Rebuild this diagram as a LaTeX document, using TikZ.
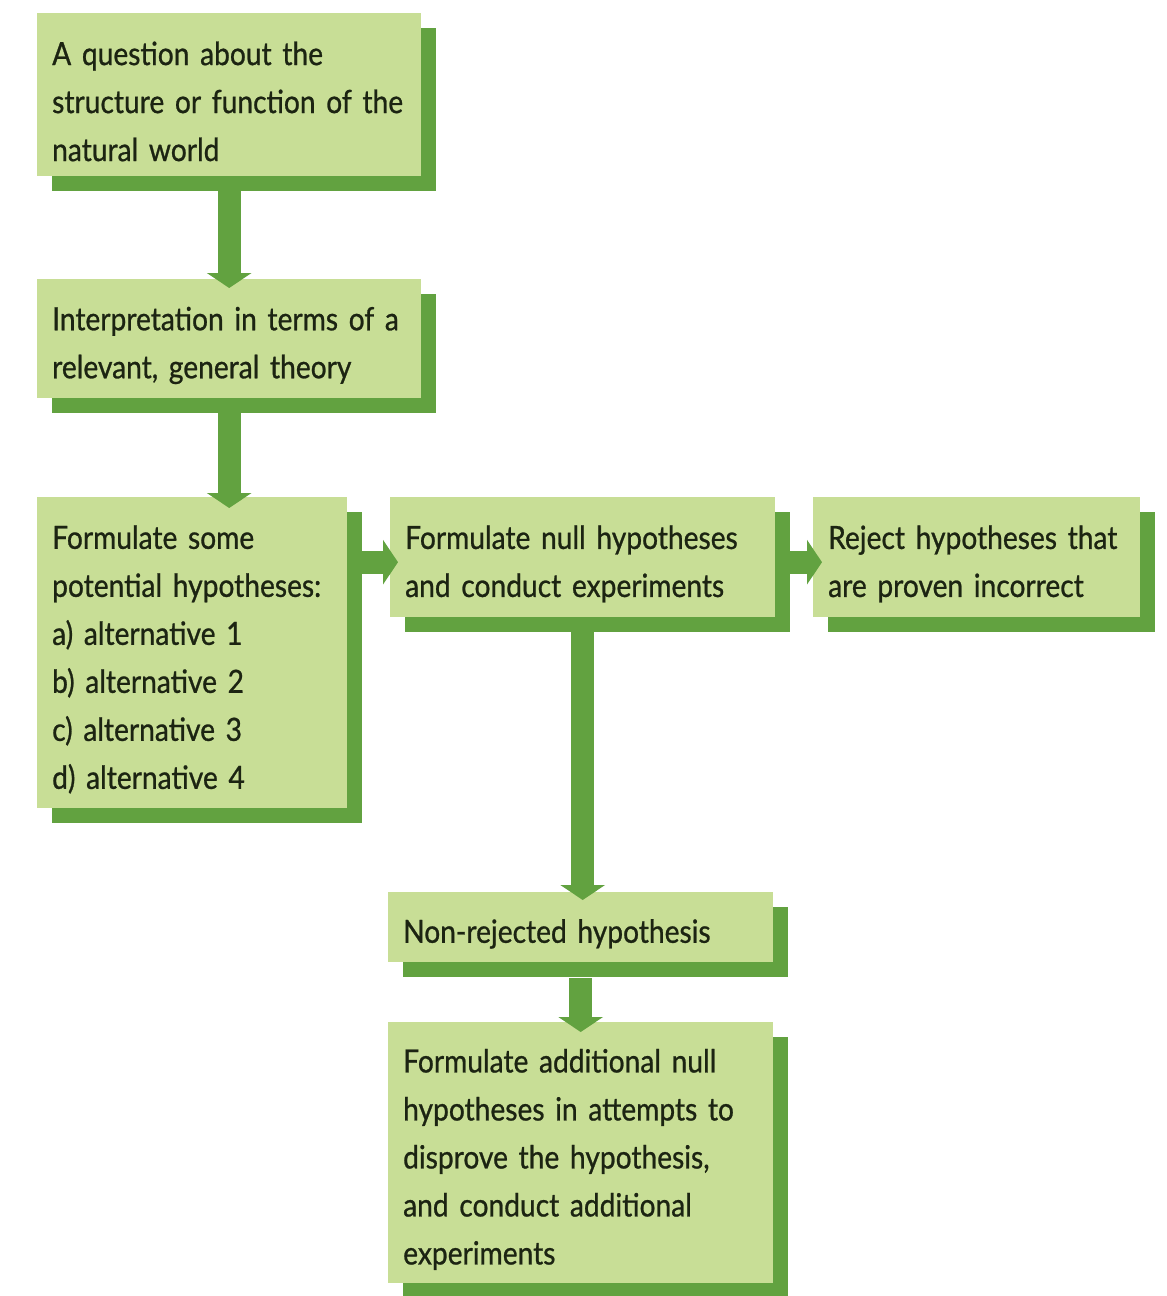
\documentclass[tikz,border=0pt]{standalone}
\usepackage{fontspec}
\setmainfont[FakeStretch=0.88,FakeBold=0.8]{Lato}
\usetikzlibrary{arrows.meta,shadows,calc}
\definecolor{lg}{RGB}{200,222,150}
\definecolor{dg}{RGB}{98,162,64}
\definecolor{tx}{RGB}{28,36,18}
\newcommand\bxfont{\fontsize{32pt}{48pt}\selectfont\spaceskip=16pt plus 3pt minus 1pt\relax}
\begin{document}
\begin{tikzpicture}[x=1pt,y=1pt,
  box/.style={fill=lg, anchor=north west, inner xsep=15pt, inner ysep=0pt, align=left,
    text=tx, font=\bxfont, execute at begin node={\rule{0pt}{37pt}},
    general shadow={shadow xshift=15pt, shadow yshift=-15pt, fill=dg}},
  arr/.style={draw=dg, line width=23pt, -{Triangle[width=44pt,length=15pt]}}]
\useasboundingbox (0,0) rectangle (1167,-1296);
\fill[white] (0,0) rectangle (1167,-1296);
\node[box, minimum width=384, minimum height=163, text width=354] (q) at (37,-13)
  {A question about the\\ structure or function of the\\ natural world};
\node[box, minimum width=384, minimum height=119, text width=354] (i) at (37,-279)
  {Interpretation in terms of a\\ relevant, general theory};
\node[box, minimum width=310, minimum height=311, text width=280] (f) at (37,-497)
  {Formulate some\\ potential hypotheses:\\ a) alternative 1\\ b) alternative 2\\ c) alternative 3\\ d) alternative 4};
\node[box, minimum width=385, minimum height=120, text width=355] (n) at (390,-497)
  {Formulate null hypotheses\\ and conduct experiments};
\node[box, minimum width=327, minimum height=120, text width=297] (r) at (813,-497)
  {Reject hypotheses that\\ are proven incorrect};
\node[box, minimum width=385, minimum height=70, text width=355] (nr) at (388,-892)
  {Non-rejected hypothesis};
\node[box, minimum width=385, minimum height=261, text width=355] (a) at (388,-1022)
  {Formulate additional null\\ hypotheses in attempts to\\ disprove the hypothesis,\\ and conduct additional\\ experiments};
\draw[arr] ($(q.south)+(0,-15)$) -- ($(q.south |- i.north)+(0,-9)$);
\draw[arr] ($(i.south)+(0,-15)$) -- ($(i.south |- f.north)+(0,-11)$);
\draw[arr] ($(f.east |- n.west)+(15,-5)$) -- ($(n.west)+(8,-5)$);
\draw[arr] ($(n.east)+(14,-5)$) -- ($(r.west)+(9,-5)$);
\draw[arr] ($(n.south)+(0,-15)$) -- ($(n.south |- nr.north)+(0,-8)$);
\draw[arr] ($(nr.south)+(0,-16)$) -- ($(nr.south |- a.north)+(0,-10)$);
\end{tikzpicture}
\end{document}
